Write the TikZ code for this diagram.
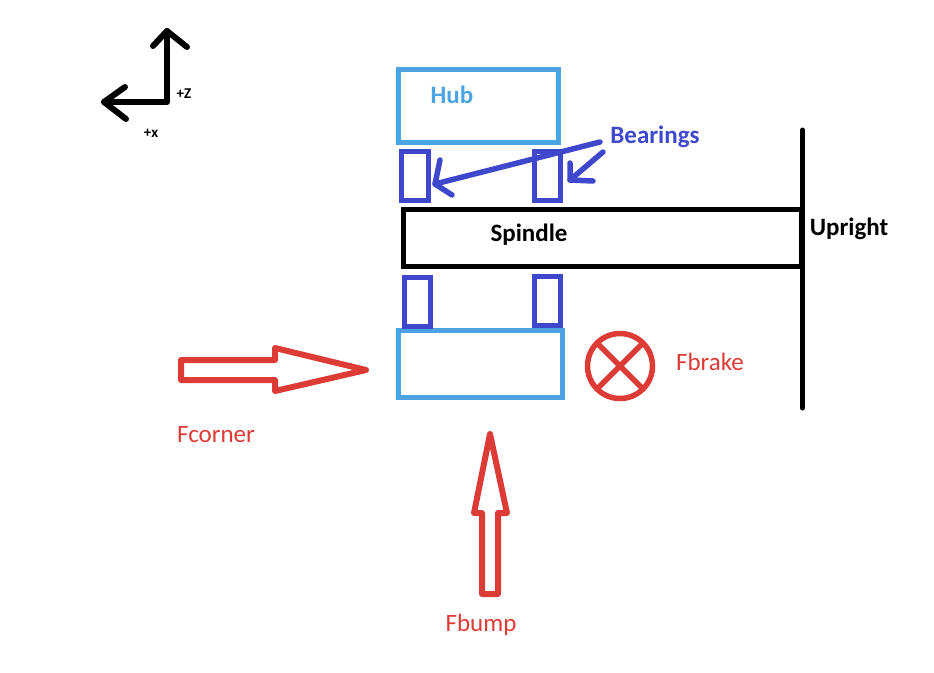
\documentclass[tikz,border=0pt]{standalone}
\usepackage{fontspec}
\setmainfont{Carlito}
\tikzset{
    hubbox/.style={draw=hubblue, line width=5.5pt, inner sep=0pt, outer sep=0pt, minimum width=#1},
    bearingbox/.style={draw=bearingblue, line width=5pt, inner sep=0pt, outer sep=0pt, minimum width=26.5pt, minimum height=49pt},
    pen/.style={line width=#1, line cap=round, line join=round},
    lbl/.style={inner sep=0pt, font=\fontsize{#1}{#1}\selectfont},
    boldlbl/.style={inner sep=0pt, font=\bfseries\fontsize{#1}{#1}\selectfont}
}
\definecolor{hubblue}{HTML}{4BA3E3}
\definecolor{bearingblue}{HTML}{3F48CC}
\definecolor{forcered}{HTML}{DD3B36}
\begin{document}
\begin{tikzpicture}[x=1pt, y=-1pt]
    \useasboundingbox (0,0) rectangle (934,672);

    % Axes
    \coordinate (o) at (167,102);
    \coordinate (ztip) at (167,31);
    \coordinate (xtip) at (104,102);
    \draw[pen=6pt] (xtip) -- (o) -- (ztip);
    \draw[pen=6pt] (153,46) -- (ztip) -- (187,47);
    \draw[pen=6pt] (125,87) -- (xtip) -- (126,119);
    \node[boldlbl=15] (zlabel) at (184,94) {+Z};
    \node[boldlbl=15] (xlabel) at (151,133) {+x};

    % Hub
    \node[hubbox=160pt, minimum height=73pt] (hubtop) at (478.5,106) {};
    \node[hubbox=164pt, minimum height=67pt] (hubbottom) at (480.5,364) {};
    \node[boldlbl=25, text=hubblue] (hublabel) at (452,95) {Hub};

    % Bearings
    \node[bearingbox] (bearingA) at (415,176) {};
    \node[bearingbox] (bearingB) at (547.5,176) {};
    \node[bearingbox] (bearingC) at (417.5,301.5) {};
    \node[bearingbox] (bearingD) at (547.5,301) {};
    \node[boldlbl=25, text=bearingblue] (bearinglabel) at (655,137) {Bearings};
    \coordinate (leadA) at (600,142);
    \coordinate (leadB) at (603,152);
    \coordinate (tipA) at (435,184);
    \coordinate (tipB) at (570,180);
    \draw[pen=5.5pt, bearingblue] (leadA) -- (tipA);
    \draw[pen=5.5pt, bearingblue] (440,160) -- (tipA) -- (452,195);
    \draw[pen=5.5pt, bearingblue] (leadB) -- (tipB);
    \draw[pen=5.5pt, bearingblue] (570,163) -- (tipB) -- (593,181);

    % Spindle and upright
    \node[draw, line width=5.5pt, inner sep=0pt, outer sep=0pt, minimum width=398pt, minimum height=57pt] (spindle) at (602.5,238) {};
    \node[boldlbl=25] (spindlelabel) at (529,235) {Spindle};
    \coordinate (uprighttop) at (802.5,130);
    \coordinate (uprightbottom) at (802.5,408);
    \draw[pen=5pt] (uprighttop) -- (uprightbottom);
    \node[boldlbl=25] (uprightlabel) at (849,229) {Upright};

    % Forces
    \draw[pen=6pt, forcered] (181,360) -- (275,360) -- (275,348) -- (366,370) -- (275,391) -- (275,380) -- (181,380) -- cycle;
    \node[lbl=25, text=forcered] (cornerlabel) at (216,435) {Fcorner};

    \draw[pen=6pt, forcered] (482,594) -- (482,513) -- (474,513) -- (490,434) -- (507,513) -- (498,513) -- (498,594) -- cycle;
    \node[lbl=25, text=forcered] (bumplabel) at (481,625) {Fbump};

    \node[circle, draw=forcered, line width=5.5pt, inner sep=0pt, outer sep=0pt, minimum size=65pt] (brake) at (620,366) {};
    \draw[pen=5.5pt, forcered] (brake.45) -- (brake.225);
    \draw[pen=5.5pt, forcered] (brake.135) -- (brake.315);
    \node[lbl=25, text=forcered] (brakelabel) at (710,362) {Fbrake};
\end{tikzpicture}
\end{document}
